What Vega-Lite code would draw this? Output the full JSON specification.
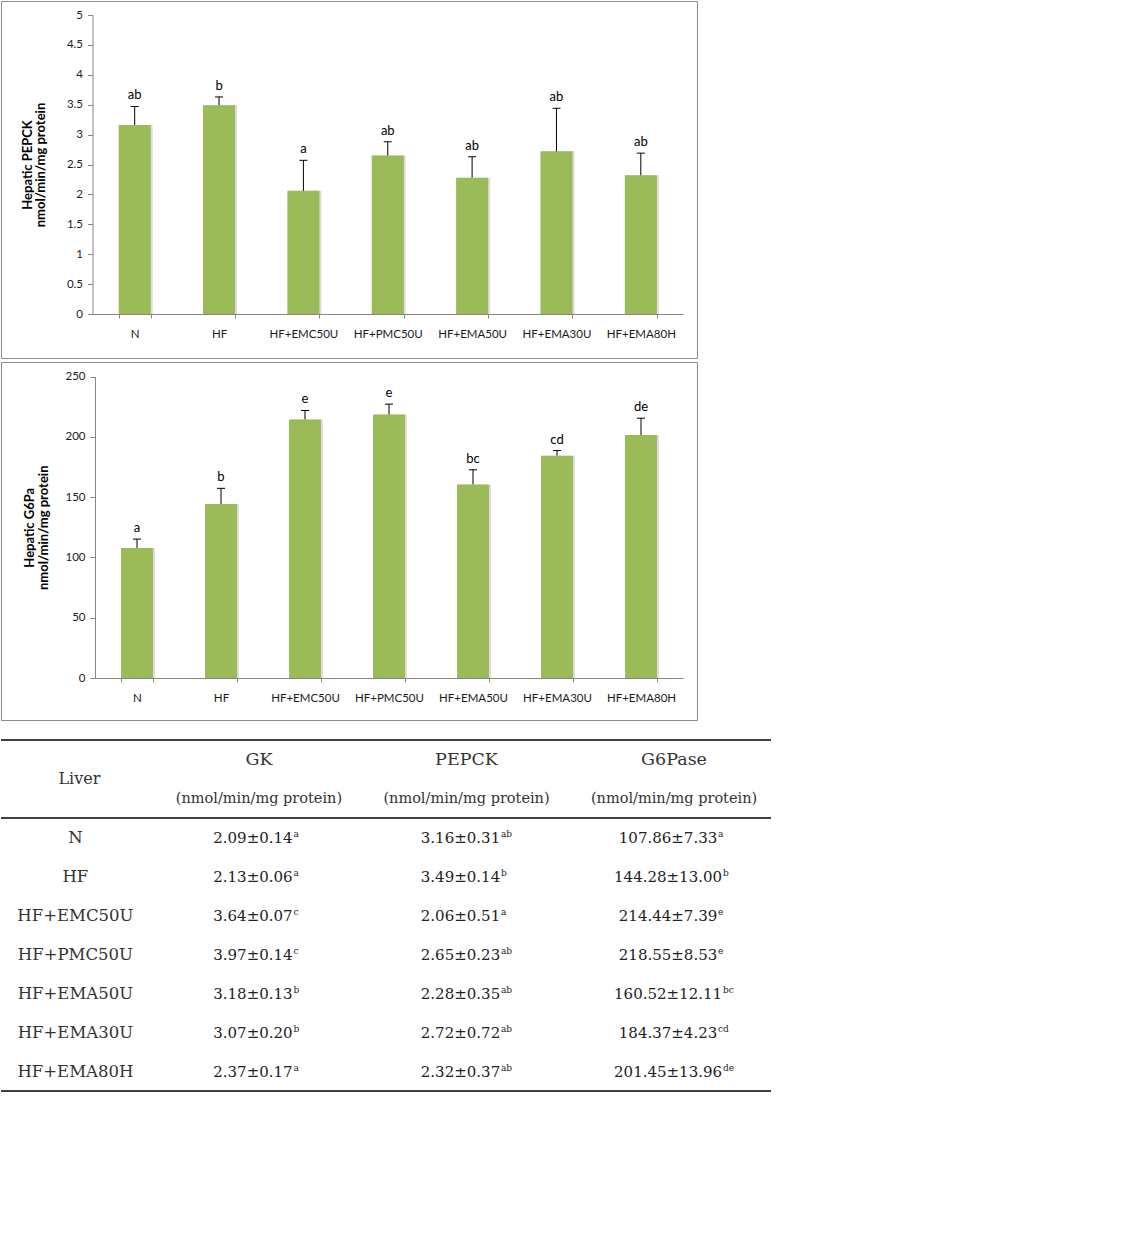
{
 "$schema": "https://vega.github.io/schema/vega-lite/v6.json",
 "background": "white",
 "padding": {"left": 0, "top": 0, "right": 5, "bottom": 5},
 "datasets": {
  "enz": [
   {"group": "N", "enzyme": "GK", "mean": 2.09, "upper": 2.23, "text": "2.09±0.14", "letter": "a"},
   {"group": "HF", "enzyme": "GK", "mean": 2.13, "upper": 2.19, "text": "2.13±0.06", "letter": "a"},
   {"group": "HF+EMC50U", "enzyme": "GK", "mean": 3.64, "upper": 3.71, "text": "3.64±0.07", "letter": "c"},
   {"group": "HF+PMC50U", "enzyme": "GK", "mean": 3.97, "upper": 4.11, "text": "3.97±0.14", "letter": "c"},
   {"group": "HF+EMA50U", "enzyme": "GK", "mean": 3.18, "upper": 3.31, "text": "3.18±0.13", "letter": "b"},
   {"group": "HF+EMA30U", "enzyme": "GK", "mean": 3.07, "upper": 3.27, "text": "3.07±0.20", "letter": "b"},
   {"group": "HF+EMA80H", "enzyme": "GK", "mean": 2.37, "upper": 2.54, "text": "2.37±0.17", "letter": "a"},
   {"group": "N", "enzyme": "PEPCK", "mean": 3.16, "upper": 3.47, "text": "3.16±0.31", "letter": "ab"},
   {"group": "HF", "enzyme": "PEPCK", "mean": 3.49, "upper": 3.63, "text": "3.49±0.14", "letter": "b"},
   {"group": "HF+EMC50U", "enzyme": "PEPCK", "mean": 2.06, "upper": 2.57, "text": "2.06±0.51", "letter": "a"},
   {"group": "HF+PMC50U", "enzyme": "PEPCK", "mean": 2.65, "upper": 2.88, "text": "2.65±0.23", "letter": "ab"},
   {"group": "HF+EMA50U", "enzyme": "PEPCK", "mean": 2.28, "upper": 2.63, "text": "2.28±0.35", "letter": "ab"},
   {"group": "HF+EMA30U", "enzyme": "PEPCK", "mean": 2.72, "upper": 3.44, "text": "2.72±0.72", "letter": "ab"},
   {"group": "HF+EMA80H", "enzyme": "PEPCK", "mean": 2.32, "upper": 2.69, "text": "2.32±0.37", "letter": "ab"},
   {"group": "N", "enzyme": "G6Pase", "mean": 107.86, "upper": 115.19, "text": "107.86±7.33", "letter": "a"},
   {"group": "HF", "enzyme": "G6Pase", "mean": 144.28, "upper": 157.28, "text": "144.28±13.00", "letter": "b"},
   {"group": "HF+EMC50U", "enzyme": "G6Pase", "mean": 214.44, "upper": 221.83, "text": "214.44±7.39", "letter": "e"},
   {"group": "HF+PMC50U", "enzyme": "G6Pase", "mean": 218.55, "upper": 227.08, "text": "218.55±8.53", "letter": "e"},
   {"group": "HF+EMA50U", "enzyme": "G6Pase", "mean": 160.52, "upper": 172.63, "text": "160.52±12.11", "letter": "bc"},
   {"group": "HF+EMA30U", "enzyme": "G6Pase", "mean": 184.37, "upper": 188.6, "text": "184.37±4.23", "letter": "cd"},
   {"group": "HF+EMA80H", "enzyme": "G6Pase", "mean": 201.45, "upper": 215.41, "text": "201.45±13.96", "letter": "de"}
  ],
  "cols": [{"enzyme": "GK"}, {"enzyme": "PEPCK"}, {"enzyme": "G6Pase"}]
 },
 "config": {
  "view": {"stroke": "#8c8c8c", "strokeWidth": 1},
  "axis": {"grid": false, "domainColor": "#868686", "tickColor": "#868686", "labelColor": "#1a1a1a", "labelFont": "Lato", "labelFontSize": 11.5, "titleFont": "Lato", "titleColor": "#000"},
  "text": {"font": "Lato"}
 },
 "spacing": 18,
 "vconcat": [
  {
   "spacing": 2,
   "vconcat": [
    {
     "width": 696, "height": 357,
     "data": {"name": "enz"},
     "transform": [{"filter": "datum.enzyme === 'PEPCK'"}],
     "encoding": {
      "x": {"field": "group", "type": "nominal", "sort": ["N", "HF", "HF+EMC50U", "HF+PMC50U", "HF+EMA50U", "HF+EMA30U", "HF+EMA80H"],
       "scale": {"type": "band", "range": [91.5, 682], "paddingInner": 0.62, "paddingOuter": 0.31},
       "axis": {"title": null, "labelAngle": 0, "offset": -44, "tickBand": "extent", "tickSize": 4, "labelPadding": 10}}
     },
     "layer": [
      {"mark": {"type": "bar", "color": "#dcdcdc", "xOffset": 2},
       "encoding": {"y": {"field": "mean", "type": "quantitative",
        "scale": {"domain": [0, 5], "range": [313, 14], "nice": false, "zero": true},
        "axis": {"title": ["Hepatic PEPCK", "nmol/min/mg protein"], "offset": -91.5, "values": [0, 0.5, 1, 1.5, 2, 2.5, 3, 3.5, 4, 4.5, 5], "tickCount": 11, "labelOverlap": false, "format": "~g", "tickSize": 5, "labelPadding": 5, "titleFontSize": 13, "titleFontWeight": "bold", "titleLineHeight": 13, "titlePadding": 19}}}},
      {"mark": {"type": "bar", "color": "#9BBB59"}, "encoding": {"y": {"field": "mean", "type": "quantitative",
        "axis": {"title": ["Hepatic PEPCK", "nmol/min/mg protein"], "offset": -91.5, "values": [0, 0.5, 1, 1.5, 2, 2.5, 3, 3.5, 4, 4.5, 5], "tickCount": 11, "labelOverlap": false, "format": "~g", "tickSize": 5, "labelPadding": 5, "titleFontSize": 13, "titleFontWeight": "bold", "titleLineHeight": 13, "titlePadding": 19}}}},
      {"mark": {"type": "rule", "color": "#000", "strokeWidth": 1}, "encoding": {"y": {"field": "mean", "type": "quantitative",
        "axis": {"title": ["Hepatic PEPCK", "nmol/min/mg protein"], "offset": -91.5, "values": [0, 0.5, 1, 1.5, 2, 2.5, 3, 3.5, 4, 4.5, 5], "tickCount": 11, "labelOverlap": false, "format": "~g", "tickSize": 5, "labelPadding": 5, "titleFontSize": 13, "titleFontWeight": "bold", "titleLineHeight": 13, "titlePadding": 19}}, "y2": {"field": "upper"}}},
      {"mark": {"type": "tick", "color": "#000", "size": 8, "thickness": 1, "opacity": 1}, "encoding": {"y": {"field": "upper", "type": "quantitative",
        "axis": {"title": ["Hepatic PEPCK", "nmol/min/mg protein"], "offset": -91.5, "values": [0, 0.5, 1, 1.5, 2, 2.5, 3, 3.5, 4, 4.5, 5], "tickCount": 11, "labelOverlap": false, "format": "~g", "tickSize": 5, "labelPadding": 5, "titleFontSize": 13, "titleFontWeight": "bold", "titleLineHeight": 13, "titlePadding": 19}}}},
      {"mark": {"type": "text", "baseline": "bottom", "dy": -4, "fontSize": 13, "color": "#000"}, "encoding": {"y": {"field": "upper", "type": "quantitative",
        "axis": {"title": ["Hepatic PEPCK", "nmol/min/mg protein"], "offset": -91.5, "values": [0, 0.5, 1, 1.5, 2, 2.5, 3, 3.5, 4, 4.5, 5], "tickCount": 11, "labelOverlap": false, "format": "~g", "tickSize": 5, "labelPadding": 5, "titleFontSize": 13, "titleFontWeight": "bold", "titleLineHeight": 13, "titlePadding": 19}}, "text": {"field": "letter"}}}
     ]
    },
    {
     "width": 696, "height": 358,
     "data": {"name": "enz"},
     "transform": [{"filter": "datum.enzyme === 'G6Pase'"}],
     "encoding": {
      "x": {"field": "group", "type": "nominal", "sort": ["N", "HF", "HF+EMC50U", "HF+PMC50U", "HF+EMA50U", "HF+EMA30U", "HF+EMA80H"],
       "scale": {"type": "band", "range": [94, 682], "paddingInner": 0.62, "paddingOuter": 0.31},
       "axis": {"title": null, "labelAngle": 0, "offset": -42, "tickBand": "extent", "tickSize": 4, "labelPadding": 10}}
     },
     "layer": [
      {"mark": {"type": "bar", "color": "#dcdcdc", "xOffset": 2},
       "encoding": {"y": {"field": "mean", "type": "quantitative",
        "scale": {"domain": [0, 250], "range": [316, 14.5], "nice": false, "zero": true},
        "axis": {"title": ["Hepatic G6Pa", "nmol/min/mg protein"], "offset": -94, "values": [0, 50, 100, 150, 200, 250], "format": "d", "tickSize": 5, "labelPadding": 5, "titleFontSize": 13, "titleFontWeight": "bold", "titleLineHeight": 14, "titlePadding": 14}}}},
      {"mark": {"type": "bar", "color": "#9BBB59"}, "encoding": {"y": {"field": "mean", "type": "quantitative",
        "axis": {"title": ["Hepatic G6Pa", "nmol/min/mg protein"], "offset": -94, "values": [0, 50, 100, 150, 200, 250], "format": "d", "tickSize": 5, "labelPadding": 5, "titleFontSize": 13, "titleFontWeight": "bold", "titleLineHeight": 14, "titlePadding": 14}}}},
      {"mark": {"type": "rule", "color": "#000", "strokeWidth": 1}, "encoding": {"y": {"field": "mean", "type": "quantitative",
        "axis": {"title": ["Hepatic G6Pa", "nmol/min/mg protein"], "offset": -94, "values": [0, 50, 100, 150, 200, 250], "format": "d", "tickSize": 5, "labelPadding": 5, "titleFontSize": 13, "titleFontWeight": "bold", "titleLineHeight": 14, "titlePadding": 14}}, "y2": {"field": "upper"}}},
      {"mark": {"type": "tick", "color": "#000", "size": 8, "thickness": 1, "opacity": 1}, "encoding": {"y": {"field": "upper", "type": "quantitative",
        "axis": {"title": ["Hepatic G6Pa", "nmol/min/mg protein"], "offset": -94, "values": [0, 50, 100, 150, 200, 250], "format": "d", "tickSize": 5, "labelPadding": 5, "titleFontSize": 13, "titleFontWeight": "bold", "titleLineHeight": 14, "titlePadding": 14}}}},
      {"mark": {"type": "text", "baseline": "bottom", "dy": -4, "fontSize": 13, "color": "#000"}, "encoding": {"y": {"field": "upper", "type": "quantitative",
        "axis": {"title": ["Hepatic G6Pa", "nmol/min/mg protein"], "offset": -94, "values": [0, 50, 100, 150, 200, 250], "format": "d", "tickSize": 5, "labelPadding": 5, "titleFontSize": 13, "titleFontWeight": "bold", "titleLineHeight": 14, "titlePadding": 14}}, "text": {"field": "letter"}}}
     ]
    }
   ]
  },
  {
   "width": 770, "height": 351,
   "view": {"stroke": null},
   "resolve": {"scale": {"y": "independent"}},
   "layer": [
    {"data": {"values": [{}]}, "mark": {"type": "rule", "color": "#000", "strokeWidth": 1.5},
     "encoding": {"y": {"datum": 0, "type": "quantitative", "scale": {"domain": [0, 9], "reverse": true, "nice": false, "zero": false}, "axis": null}}},
    {"data": {"values": [{}]}, "mark": {"type": "rule", "color": "#000", "strokeWidth": 1.5},
     "encoding": {"y": {"datum": 2, "type": "quantitative", "scale": {"domain": [0, 9], "reverse": true, "nice": false, "zero": false}, "axis": null}}},
    {"data": {"values": [{}]}, "mark": {"type": "rule", "color": "#000", "strokeWidth": 1.5},
     "encoding": {"y": {"datum": 9, "type": "quantitative", "scale": {"domain": [0, 9], "reverse": true, "nice": false, "zero": false}, "axis": null}}},
    {"data": {"name": "cols"}, "mark": {"type": "text", "font": "DejaVu Serif", "fontSize": 17.5, "color": "#333"},
     "encoding": {
      "x": {"field": "enzyme", "type": "nominal", "scale": {"type": "point", "domain": ["Liver", "GK", "PEPCK", "G6Pase"], "padding": 0.355, "align": 0.342}, "axis": null},
      "y": {"datum": 0.5, "type": "quantitative", "scale": {"domain": [0, 9], "reverse": true, "nice": false, "zero": false}, "axis": null},
      "text": {"field": "enzyme"}}},
    {"data": {"name": "cols"}, "mark": {"type": "text", "font": "DejaVu Serif", "fontSize": 14.5, "color": "#333"},
     "encoding": {
      "x": {"field": "enzyme", "type": "nominal", "scale": {"type": "point", "domain": ["Liver", "GK", "PEPCK", "G6Pase"], "padding": 0.355, "align": 0.342}, "axis": null},
      "y": {"datum": 1.5, "type": "quantitative", "scale": {"domain": [0, 9], "reverse": true, "nice": false, "zero": false}, "axis": null},
      "text": {"value": "(nmol/min/mg  protein)"}}},
    {"data": {"values": [{"label": "Liver"}]}, "mark": {"type": "text", "font": "DejaVu Serif", "fontSize": 16, "color": "#333", "dx": 28},
     "encoding": {
      "x": {"datum": "Liver", "type": "nominal", "scale": {"type": "point", "domain": ["Liver", "GK", "PEPCK", "G6Pase"], "padding": 0.355, "align": 0.342}, "axis": null},
      "y": {"datum": 1, "type": "quantitative", "scale": {"domain": [0, 9], "reverse": true, "nice": false, "zero": false}, "axis": null},
      "text": {"field": "label"}}},
    {"data": {"name": "enz"}, "transform": [{"filter": "datum.enzyme === 'GK'"}],
     "mark": {"type": "text", "font": "DejaVu Serif", "fontSize": 16.5, "color": "#333", "dx": 24},
     "encoding": {
      "x": {"datum": "Liver", "type": "nominal", "scale": {"type": "point", "domain": ["Liver", "GK", "PEPCK", "G6Pase"], "padding": 0.355, "align": 0.342}, "axis": null},
      "y": {"field": "group", "type": "nominal", "scale": {"type": "band", "domain": ["N", "HF", "HF+EMC50U", "HF+PMC50U", "HF+EMA50U", "HF+EMA30U", "HF+EMA80H"], "paddingInner": 0, "paddingOuter": 1, "align": 1}, "axis": null},
      "text": {"field": "group"}}},
    {"data": {"name": "enz"},
     "mark": {"type": "text", "font": "DejaVu Serif", "fontSize": 15, "color": "#222", "dx": -6},
     "encoding": {
      "x": {"field": "enzyme", "type": "nominal", "scale": {"type": "point", "domain": ["Liver", "GK", "PEPCK", "G6Pase"], "padding": 0.355, "align": 0.342}, "axis": null},
      "y": {"field": "group", "type": "nominal", "scale": {"type": "band", "domain": ["N", "HF", "HF+EMC50U", "HF+PMC50U", "HF+EMA50U", "HF+EMA30U", "HF+EMA80H"], "paddingInner": 0, "paddingOuter": 1, "align": 1}, "axis": null},
      "text": {"field": "text"}}},
    {"data": {"name": "enz"}, "transform": [{"filter": "length(datum.text) === 9"}],
     "mark": {"type": "text", "font": "DejaVu Serif", "fontSize": 9, "color": "#222", "align": "left", "dx": 34.5, "dy": -4},
     "encoding": {
      "x": {"field": "enzyme", "type": "nominal", "scale": {"type": "point", "domain": ["Liver", "GK", "PEPCK", "G6Pase"], "padding": 0.355, "align": 0.342}, "axis": null},
      "y": {"field": "group", "type": "nominal", "scale": {"type": "band", "domain": ["N", "HF", "HF+EMC50U", "HF+PMC50U", "HF+EMA50U", "HF+EMA30U", "HF+EMA80H"], "paddingInner": 0, "paddingOuter": 1, "align": 1}, "axis": null},
      "text": {"field": "letter"}}},
    {"data": {"name": "enz"}, "transform": [{"filter": "length(datum.text) === 11"}],
     "mark": {"type": "text", "font": "DejaVu Serif", "fontSize": 9, "color": "#222", "align": "left", "dx": 44, "dy": -4},
     "encoding": {
      "x": {"field": "enzyme", "type": "nominal", "scale": {"type": "point", "domain": ["Liver", "GK", "PEPCK", "G6Pase"], "padding": 0.355, "align": 0.342}, "axis": null},
      "y": {"field": "group", "type": "nominal", "scale": {"type": "band", "domain": ["N", "HF", "HF+EMC50U", "HF+PMC50U", "HF+EMA50U", "HF+EMA30U", "HF+EMA80H"], "paddingInner": 0, "paddingOuter": 1, "align": 1}, "axis": null},
      "text": {"field": "letter"}}},
    {"data": {"name": "enz"}, "transform": [{"filter": "length(datum.text) === 12"}],
     "mark": {"type": "text", "font": "DejaVu Serif", "fontSize": 9, "color": "#222", "align": "left", "dx": 49, "dy": -4},
     "encoding": {
      "x": {"field": "enzyme", "type": "nominal", "scale": {"type": "point", "domain": ["Liver", "GK", "PEPCK", "G6Pase"], "padding": 0.355, "align": 0.342}, "axis": null},
      "y": {"field": "group", "type": "nominal", "scale": {"type": "band", "domain": ["N", "HF", "HF+EMC50U", "HF+PMC50U", "HF+EMA50U", "HF+EMA30U", "HF+EMA80H"], "paddingInner": 0, "paddingOuter": 1, "align": 1}, "axis": null},
      "text": {"field": "letter"}}}
   ]
  }
 ]
}
